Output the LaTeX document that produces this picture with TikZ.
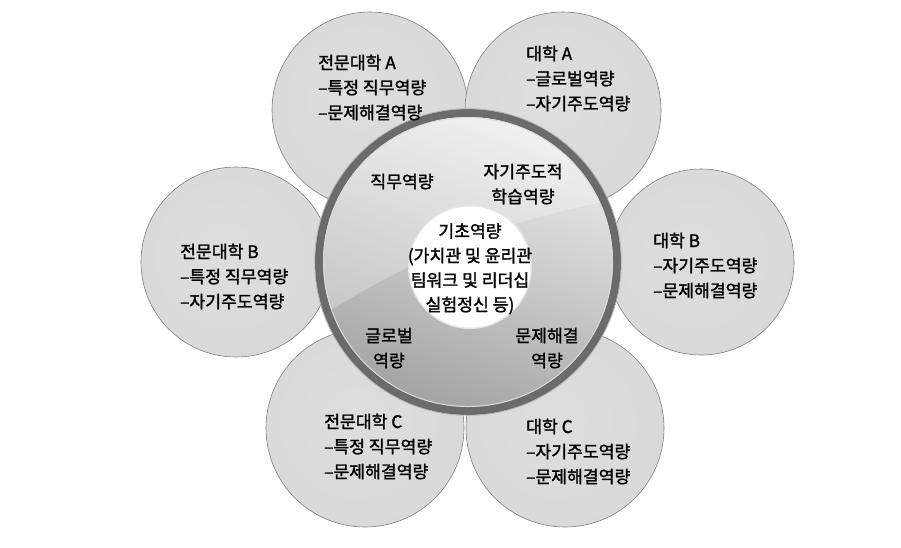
\documentclass[tikz,border=0pt]{standalone}
\usepackage{fontspec}
\setmainfont{Noto Sans CJK KR}[FakeBold=1.6]
\pgfdeclareradialshading{lens}{\pgfpoint{-3bp}{3bp}}{color(0bp)=(black!13); color(30bp)=(black!15); color(40bp)=(black!22); color(45.5bp)=(black!34); color(47.8bp)=(black!6); color(49.2bp)=(black!22); color(50bp)=(black!62)}
\tikzset{
  outer/.style={shading=lens, draw=black!50, line width=0.6pt},
  lbl/.style={anchor=base west, inner sep=0pt, align=left, font=\fontsize{17.2}{25}\selectfont},
  clbl/.style={anchor=base, inner sep=0pt, align=center, font=\fontsize{17.2}{25}\selectfont},
}
\begin{document}
\begin{tikzpicture}[x=1pt,y=-1pt]
\useasboundingbox (0,0) rectangle (901,547);
% outer circles
\coordinate (cA1) at (370,110);
\coordinate (cA2) at (563,110);
\coordinate (cB1) at (236,262);
\coordinate (cB2) at (701,262);
\coordinate (cC1) at (365,428);
\coordinate (cC2) at (565,428);
\coordinate (cc) at (468,262);
\path[outer] (cB1) circle[radius=95];
\path[outer] (cB2) circle[radius=93];
\path[outer] (cC1) circle[radius=99];
\path[outer] (cC2) circle[radius=99];
\path[outer] (cA1) circle[radius=98];
\path[outer] (cA2) circle[radius=98];
% central disc
\fill[top color=black!7, bottom color=black!36, shading angle=-20] (cc) circle[radius=150];
\begin{scope}
  \clip (cc) circle[radius=150];
  \fill[white, opacity=0.28] (300,330) .. controls (420,250) and (520,215) .. (640,195) -- (640,100) -- (300,100) -- cycle;
\end{scope}
\draw[line width=8pt, black!58] (cc) circle[radius=149];
\draw[line width=1pt, white!85!black] (cc) circle[radius=144.5];
\draw[line width=0.8pt, black!30] (cc) circle[radius=153.3];
\fill[black!10] (470,267) circle[radius=62];
\fill[white] (470,267) circle[radius=60.5];
% labels
\node[lbl] (tA1) at (318,119) {전문대학 A\\–특정 직무역량\\–문제해결역량};
\node[lbl] (tA2) at (526,110) {대학 A\\–글로벌역량\\–자기주도역량};
\node[lbl] (tB1) at (180,308) {전문대학 B\\–특정 직무역량\\–자기주도역량};
\node[lbl] (tB2) at (653,297) {대학 B\\–자기주도역량\\–문제해결역량};
\node[lbl] (tC1) at (324,478) {전문대학 C\\–특정 직무역량\\–문제해결역량};
\node[lbl] (tC2) at (526,483) {대학 C\\–자기주도역량\\–문제해결역량};
\node[clbl] (i1) at (402,188) {직무역량};
\node[clbl] (i2) at (523,203) {자기주도적\\학습역량};
\node[clbl] (i3) at (389,367) {글로벌\\역량};
\node[clbl] (i4) at (547,367) {문제해결\\역량};
\node[clbl, font=\fontsize{17.2}{24.5}\selectfont] (core) at (470,311) {기초역량\\(가치관 및 윤리관\\팀워크 및 리더십\\실험정신 등)};
\end{tikzpicture}
\end{document}
